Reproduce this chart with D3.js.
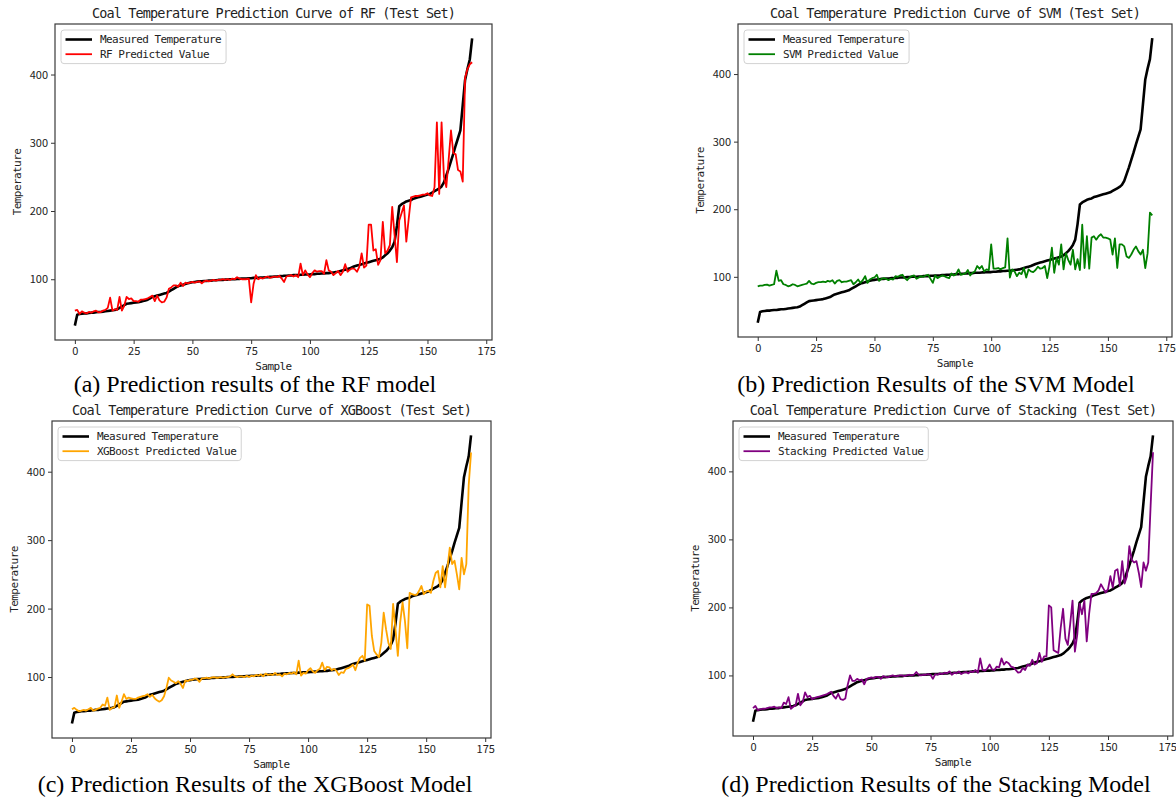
<!DOCTYPE html>
<html>
<head>
<meta charset="utf-8">
<script src="https://cdn.jsdelivr.net/npm/d3@7"></script>
<style>
    body {margin: 0; background: #fff;}
    .tick text {font-family: "Noto Sans CJK SC", sans-serif; font-size: 11px; fill: #222;}
    .tick line {stroke: #333;}
    .mono {font-family: "DejaVu Sans Mono", monospace; fill: #222;}
    .caption {font-family: "Liberation Serif", "Times New Roman", serif; font-size: 24px; fill: #000;}
</style>
</head>
<body>
<div id="chart"></div>
<script>

//Tick labels
var sample_ticks = [0, 25, 50, 75, 100, 125, 150, 175];
var temp_ticks   = [100, 200, 300, 400];

//Measured temperature of the test set (sorted), one value per sample
var measured = [
    32, 48, 49, 49.5, 50, 50, 50.5, 51, 51, 51.5,
    52, 52, 52.5, 53, 53.5, 54, 54.5, 55, 56, 58,
    60, 62, 64, 64.5, 65, 65.5, 66, 66.5, 67, 68,
    69, 70, 72, 74, 75, 76, 77, 78, 79, 80,
    82, 84, 86, 88, 90, 91, 92, 93, 94, 95,
    95.5, 96, 96.5, 97, 97, 97.5, 97.5, 98, 98, 98.5,
    98.5, 99, 99, 99, 99.5, 99.5, 100, 100, 100, 100.5,
    100.5, 101, 101, 101, 101.5, 101.5, 102, 102, 102, 102.5,
    102.5, 103, 103, 103.5, 103.5, 104, 104, 104.5, 104.5, 105,
    105, 105.5, 105.5, 106, 106, 106, 106.5, 106.5, 107, 107,
    107, 107.5, 107.5, 108, 108, 108.5, 108.5, 109, 109, 109.5,
    110, 110.5, 111, 112, 113, 114, 115, 116, 117.5, 119,
    120, 121, 122, 123, 124, 125, 126, 127, 128, 129,
    130, 132, 135, 138, 142, 147, 155, 178, 207, 210,
    212, 214, 215, 216, 218, 219, 220, 221, 222, 223,
    224, 225, 227, 229, 231, 233, 236, 242, 252, 262,
    273, 284, 296, 307, 318, 355, 392, 408, 422, 453
];

var rf_pred = [
    54, 55, 49, 53, 51, 50, 52, 51, 53, 54,
    51.5, 52, 54, 55, 58, 73, 54, 56, 55, 74,
    54, 61, 74, 71, 72, 68, 68, 67, 70, 70,
    71, 72, 74, 76, 68, 76, 69, 66, 67, 73,
    86, 88, 91, 91, 89, 95, 90, 95, 94, 95,
    96, 95, 96, 97, 94, 97, 98, 97, 98, 99,
    98, 99, 99, 100, 99, 100, 99, 101, 100, 103,
    101, 100, 100, 100, 101, 66, 93, 106, 100, 102,
    101, 103, 104, 102, 103, 104, 103, 105, 101, 96,
    104, 105, 106, 104, 106, 103, 123, 106, 113, 107,
    103, 109, 113, 111, 112, 112, 108, 128, 113, 111,
    106, 109, 112, 106, 111, 122, 111, 114, 116, 115,
    111, 118, 138, 117, 120, 180, 180, 142, 144, 121,
    128, 184, 138, 142, 150, 206, 165, 125, 186, 197,
    208, 155, 188, 220, 221, 222, 222, 223, 224, 224,
    226, 223, 222, 235, 330, 225, 330, 250, 235, 275,
    318, 285, 283, 260, 258, 243, 395, 408, 415, 418
];

var svm_pred = [
    86, 87, 87, 88, 88.5, 87, 88, 89, 109, 94,
    95, 89, 88, 86, 87, 89, 88, 86, 87, 88,
    89, 90, 94, 90, 89, 91, 92, 92, 93, 92,
    94, 93, 95, 90, 94, 95, 92, 93, 93, 94,
    95, 89, 92, 96, 91, 95, 101, 91, 96, 98,
    99, 103, 94, 97, 98, 97, 95, 97, 96, 101,
    100, 102, 103, 98, 95, 99, 101, 102, 97, 99,
    101, 100, 102, 103, 97, 91, 102, 98, 100, 102,
    101, 99, 98, 105, 102, 104, 111, 103, 104, 105,
    110, 102, 106, 108, 116, 112, 116, 108, 111, 110,
    148, 112, 112, 113, 111, 113, 114, 157, 99, 111,
    108, 101, 106, 104, 113, 99, 111, 108, 107, 110,
    115, 112, 113, 116, 98, 116, 143, 106, 128, 118,
    148, 111, 135, 125, 118, 140, 111, 126, 110, 177,
    113, 160, 112, 158, 160, 155, 160, 163, 158, 158,
    157, 155, 133, 157, 113, 148, 148, 145, 130, 128,
    133, 140, 145, 138, 133, 140, 113, 135, 195, 191
];

var xgb_pred = [
    53, 55, 52, 50, 51, 52, 51, 53, 55, 51,
    52, 54, 55, 60, 58, 70, 52, 55, 56, 73,
    55, 64, 75, 68, 70, 69, 68, 68, 70, 71,
    72, 73, 75, 71, 74, 69, 66, 64, 66, 72,
    84, 99, 95, 93, 91, 94, 90, 84, 95, 94,
    96, 96, 98, 97, 93, 98, 98, 99, 98, 99,
    100, 99, 99, 100, 99, 100, 100, 101, 104, 101,
    100, 101, 101, 100, 102, 100, 102, 101, 103, 102,
    104, 101, 105, 103, 104, 103, 106, 103, 104, 101,
    105, 104, 106, 105, 107, 104, 124, 102, 106, 105,
    110, 113, 108, 106, 110, 112, 121, 110, 115, 114,
    110, 112, 109, 103, 107, 106, 112, 113, 115, 118,
    110, 121, 128, 131, 124, 206, 204, 160, 138, 133,
    129, 150, 194, 170, 150, 141, 207, 170, 131, 180,
    209, 182, 142, 223, 221, 220, 220, 226, 233, 221,
    225, 226, 223, 240, 252, 255, 231, 262, 231, 260,
    289, 265, 270, 250, 228, 274, 250, 265, 380, 428
];

var stack_pred = [
    52, 55, 49, 50, 51, 51, 52, 53, 53, 54,
    52, 53, 52, 60, 58, 68, 51, 54, 56, 73,
    56, 61, 75, 68, 70, 65, 67, 68, 69, 70,
    71, 72, 74, 76, 70, 66, 73, 65, 64, 66,
    86, 100, 92, 92, 95, 93, 94, 87, 95, 96,
    97, 96, 98, 98, 95, 99, 98, 97, 99, 100,
    99, 99, 100, 100, 99, 100, 101, 100, 101, 105,
    101, 100, 101, 101, 102, 101, 95, 102, 101, 103,
    102, 104, 103, 106, 101, 104, 103, 106, 102, 104,
    105, 103, 106, 105, 108, 104, 125, 108, 107, 110,
    116, 109, 108, 113, 112, 125, 116, 120, 118, 113,
    112, 108, 104, 105, 111, 108, 116, 114, 123, 116,
    118, 133, 120, 128, 128, 203, 200, 137, 135, 133,
    170, 198, 154, 145, 175, 210, 135, 160, 205, 190,
    210, 150, 190, 220, 220, 221, 225, 234, 228, 222,
    227, 246, 229, 254, 256, 232, 268, 235, 246, 290,
    270, 266, 268, 251, 230, 266, 254, 266, 350, 428
];

var model_names = ["RF", "SVM", "XGBoost", "Stacking"];
var model_colors = ["red", "green", "orange", "purple"];
var model_preds = [rf_pred, svm_pred, xgb_pred, stack_pred];
var captions = [
    "(a) Prediction results of the RF model",
    "(b) Prediction Results of the SVM Model",
    "(c) Prediction Results of the XGBoost Model",
    "(d) Prediction Results of the Stacking Model"
];

//Frame of each axes in page pixels, and caption anchor
var layout = [
    {left: 55,  top: 24,  right: 492,  bottom: 340, cap_x: 255, cap_y: 392},
    {left: 738, top: 24,  right: 1172, bottom: 337, cap_x: 936, cap_y: 392},
    {left: 52,  top: 421, right: 491,  bottom: 738, cap_x: 255, cap_y: 792},
    {left: 733, top: 421, right: 1173, bottom: 736, cap_x: 936, cap_y: 792}
];

var svg = d3.select("#chart").append("svg")
    .attr("width", 1176)
    .attr("height", 801);

function draw_panel(k) {
    var p = layout[k];
    var pred = model_preds[k];
    var w = p.right - p.left;
    var h = p.bottom - p.top;

    //Scales with matplotlib style 5% margins
    var n = measured.length;
    var pad_x = (n - 1) * 0.05;
    var x_scale = d3.scaleLinear()
        .domain([-pad_x, n - 1 + pad_x])
        .range([0, w]);

    var ext = d3.extent(measured.concat(pred));
    var pad_y = (ext[1] - ext[0]) * 0.05;
    var y_scale = d3.scaleLinear()
        .domain([ext[0] - pad_y, ext[1] + pad_y])
        .range([h, 0]);

    var g = svg.append("g")
        .attr("transform", "translate(" + p.left + "," + p.top + ")");

    //Axes
    var x_axis = d3.axisBottom(x_scale)
        .tickValues(sample_ticks)
        .tickSize(4)
        .tickPadding(3);
    g.append("g")
        .attr("transform", "translate(0," + h + ")")
        .call(x_axis)
        .call(function(a) {a.select(".domain").remove();});

    var y_axis = d3.axisLeft(y_scale)
        .tickValues(temp_ticks)
        .tickSize(4)
        .tickPadding(3);
    g.append("g")
        .call(y_axis)
        .call(function(a) {a.select(".domain").remove();});

    //Curves
    var line = d3.line()
        .x(function(d, i) {return x_scale(i);})
        .y(function(d) {return y_scale(d);});

    g.append("path")
        .attr("d", line(measured))
        .attr("fill", "none")
        .attr("stroke", "black")
        .attr("stroke-width", 2.6)
        .attr("stroke-linejoin", "round");

    g.append("path")
        .attr("d", line(pred))
        .attr("fill", "none")
        .attr("stroke", model_colors[k])
        .attr("stroke-width", 1.8)
        .attr("stroke-linejoin", "round");

    //Frame
    g.append("rect")
        .attr("width", w)
        .attr("height", h)
        .attr("fill", "none")
        .attr("stroke", "#3a3a3a")
        .attr("stroke-width", 1.2);

    //Title
    g.append("text")
        .attr("class", "mono")
        .attr("x", w / 2)
        .attr("y", -6)
        .attr("text-anchor", "middle")
        .style("font-size", "13.5px")
        .style("letter-spacing", "-0.87px")
        .text("Coal Temperature Prediction Curve of " + model_names[k] + " (Test Set)");

    //Axis labels
    g.append("text")
        .attr("class", "mono")
        .attr("x", w / 2)
        .attr("y", h + 30)
        .attr("text-anchor", "middle")
        .style("font-size", "11px")
        .style("letter-spacing", "-0.57px")
        .text("Sample");

    g.append("text")
        .attr("class", "mono")
        .attr("transform", "translate(-34," + (h / 2) + ") rotate(-90)")
        .attr("text-anchor", "middle")
        .style("font-size", "11px")
        .style("letter-spacing", "-0.57px")
        .text("Temperature");

    //Legend
    var leg = g.append("g").attr("transform", "translate(6,6)");
    var box = leg.append("rect")
        .attr("rx", 3)
        .attr("fill", "white")
        .attr("fill-opacity", 0.8)
        .attr("stroke", "#d2d2d2")
        .attr("stroke-width", 1);

    var entries = [
        {label: "Measured Temperature", color: "black", width: 2.6},
        {label: model_names[k] + " Predicted Value", color: model_colors[k], width: 1.8}
    ];
    var max_len = 0;
    entries.forEach(function(e, i) {
        var cy = 9.5 + i * 14.7;
        leg.append("line")
            .attr("x1", 4.5).attr("x2", 31)
            .attr("y1", cy).attr("y2", cy)
            .attr("stroke", e.color)
            .attr("stroke-width", e.width);
        var t = leg.append("text")
            .attr("class", "mono")
            .attr("x", 39)
            .attr("y", cy)
            .attr("dy", "0.35em")
            .style("font-size", "11px")
            .style("letter-spacing", "-0.57px")
            .text(e.label);
        max_len = Math.max(max_len, t.node().getComputedTextLength());
    });
    box.attr("width", 39 + max_len + 5).attr("height", 33.6);

    //Caption under the panel
    svg.append("text")
        .attr("class", "caption")
        .attr("x", p.cap_x)
        .attr("y", p.cap_y)
        .attr("text-anchor", "middle")
        .text(captions[k]);
}

for (var k = 0; k < 4; k++) {
    draw_panel(k);
}

</script>
</body>
</html>
